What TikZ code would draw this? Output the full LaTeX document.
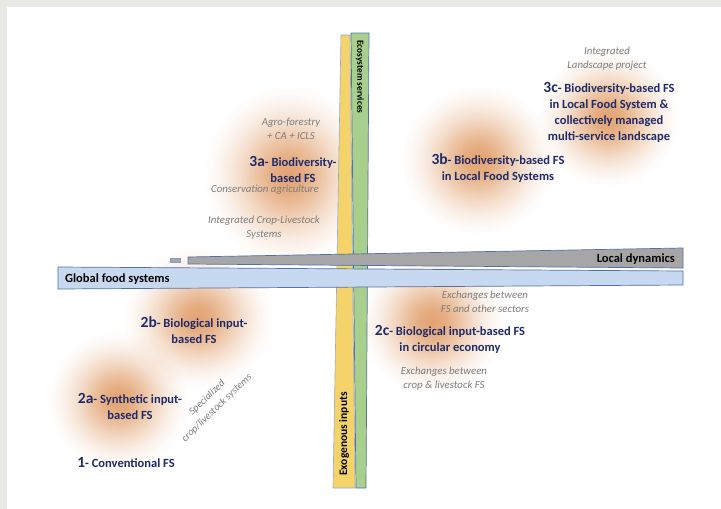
\documentclass[tikz,border=0pt]{standalone}
\usepackage{fontspec}
\setmainfont{Carlito}
\definecolor{navy}{RGB}{31,42,104}
\definecolor{notegray}{RGB}{125,125,125}
\definecolor{blobcol}{RGB}{226,162,112}
\colorlet{blobA}{blobcol!88!white}
\colorlet{blobB}{blobcol!64!white}
\colorlet{blobC}{blobcol!38!white}
\colorlet{blobD}{blobcol!17!white}
\colorlet{blobE}{blobcol!5!white}
\definecolor{baryellow}{RGB}{244,212,106}
\definecolor{bargreen}{RGB}{168,208,140}
\definecolor{bargray}{RGB}{166,166,166}
\definecolor{barblue}{RGB}{198,217,240}
\definecolor{edgeblue}{RGB}{84,112,168}
\definecolor{framegray}{RGB}{232,233,228}
\pgfdeclareradialshading{blobshade}{\pgfpoint{0bp}{0bp}}{color(0bp)=(blobcol); color(3.5bp)=(blobA); color(7bp)=(blobB); color(10.5bp)=(blobC); color(14bp)=(blobD); color(17bp)=(blobE); color(19bp)=(white); color(50bp)=(white)}
\newcommand\bigpfx[1]{{\fontsize{15.5}{15.5}\selectfont #1}}
\tikzset{
  title/.style={text=navy, font=\bfseries\fontsize{12.5}{16}\selectfont, align=center, inner sep=0pt},
  note/.style={text=notegray, font=\itshape\fontsize{10.8}{14}\selectfont, align=center, inner sep=0pt},
  barlabel/.style={text=black, font=\bfseries\fontsize{12.5}{13}\selectfont, inner sep=0pt},
  blob/.style={shading=blobshade, blend mode=multiply},
  barline/.style={draw=edgeblue, line width=0.7pt}
}
\begin{document}
\begin{tikzpicture}[x=1pt,y=-1pt]
\useasboundingbox (0,0) rectangle (721,509);
\fill[white] (0,0) rectangle (721,509);
\fill[framegray] (0,0) rectangle (721,7);
\fill[framegray] (0,0) rectangle (7,509);

% blurred blobs
\shade[blob] (288,175) ellipse [x radius=112pt, y radius=120pt];
\shade[blob] (478,160) ellipse [x radius=102pt, y radius=100pt];
\shade[blob] (608,118) ellipse [x radius=94pt, y radius=92pt];
\shade[blob] (198,318) ellipse [x radius=100pt, y radius=94pt];
\shade[blob] (118,400) ellipse [x radius=94pt, y radius=92pt];
\shade[blob] (432,322) ellipse [x radius=96pt, y radius=96pt];

% vertical bars
\fill[baryellow, draw=edgeblue!60, line width=0.6pt] (341,35) -- (350,35) -- (355,488) -- (333,488) -- cycle;
\fill[bargreen, barline] (351,33) -- (369,33) -- (366,488) -- (356,488) -- cycle;

% horizontal bars
\fill[bargray, draw=edgeblue!70, line width=0.6pt] (170,258) rectangle (180,262);
\fill[bargray, barline] (188,257) -- (683,248) -- (683,268) -- (188,264) -- cycle;
\fill[barblue, barline] (58,267) -- (683,271) -- (683,285) -- (58,289) -- cycle;

% bar labels
\node[barlabel, anchor=east] (local) at (675,259) {Local dynamics};
\node[barlabel, anchor=west] (global) at (65,279) {Global food systems};
\node[barlabel, font=\bfseries\fontsize{9.3}{10}\selectfont, rotate=-90] (eco) at (360,77) {Ecosystem services};
\node[barlabel, font=\bfseries\fontsize{11.5}{12}\selectfont, rotate=90] (exo) at (344,434) {Exogenous inputs};

% quadrant texts
\node[note] (intl) at (607,59) {Integrated\\Landscape project};
\node[title] (t3c) at (609,112) {\bigpfx{3c}- Biodiversity-based FS\\in Local Food System \&\\collectively managed\\multi-service landscape};
\node[title] (t3b) at (498,168) {\bigpfx{3b}- Biodiversity-based FS\\in Local Food Systems};
\node[note] (agro) at (291,129) {Agro-forestry\\+ CA + ICLS};
\node[title] (t3a) at (293,169) {\bigpfx{3a}- Biodiversity-\\based FS};
\node[note] (cons) at (265,190) {Conservation agriculture};
\node[note] (icls) at (264,228) {Integrated Crop-Livestock\\Systems};
\node[title] (t2b) at (194,330) {\bigpfx{2b}- Biological input-\\based FS};
\node[title] (t2a) at (130,406) {\bigpfx{2a}- Synthetic input-\\based FS};
\node[note, font=\itshape\fontsize{10.3}{14}\selectfont, rotate=44] (spec) at (212,403) {Specialized\\crop/livestock systems};
\node[title] (t1) at (126,463) {\bigpfx{1}- Conventional FS};
\node[note] (ex1) at (485,302) {Exchanges between\\FS and other sectors};
\node[title] (t2c) at (450,339) {\bigpfx{2c}- Biological input-based FS\\in circular economy};
\node[note] (ex2) at (444,379) {Exchanges between\\crop \& livestock FS};
\end{tikzpicture}
\end{document}
